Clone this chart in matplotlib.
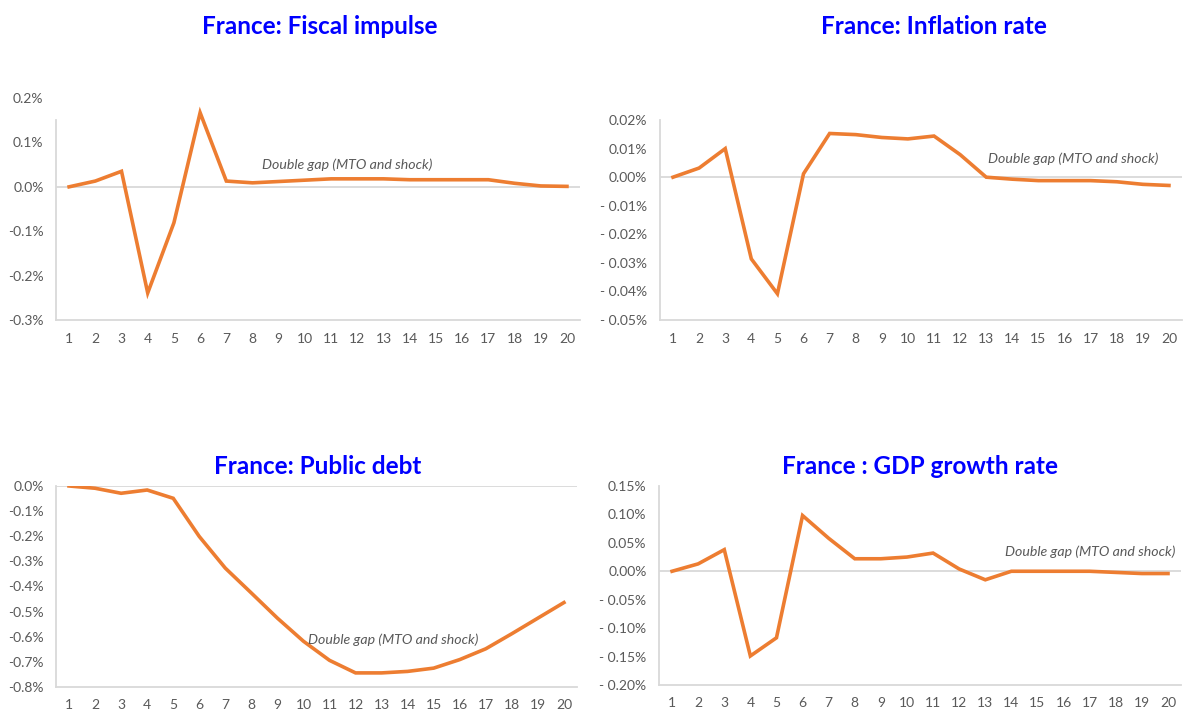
import matplotlib.pyplot as plt
from matplotlib.ticker import FuncFormatter

plt.rcParams['font.family'] = ['Lato', 'DejaVu Sans']

periods = list(range(1, 21))

# values in percent
fiscal_impulse = [0.0, 0.013, 0.035, -0.239, -0.081, 0.167, 0.013, 0.009, 0.012, 0.015,
                  0.018, 0.018, 0.018, 0.016, 0.016, 0.016, 0.016, 0.008, 0.002, 0.001]
inflation_rate = [0.0, 0.0032, 0.0100, -0.0286, -0.0408, 0.0012, 0.0153, 0.0149, 0.0139, 0.0134,
                  0.0144, 0.0079, 0.0, -0.0007, -0.0012, -0.0012, -0.0012, -0.0016, -0.0025, -0.0029]
public_debt = [0.0, -0.009, -0.029, -0.016, -0.049, -0.201, -0.327, -0.426, -0.526, -0.618,
               -0.694, -0.744, -0.744, -0.738, -0.725, -0.691, -0.648, -0.588, -0.526, -0.464]
gdp_growth = [0.0, 0.013, 0.038, -0.149, -0.117, 0.098, 0.058, 0.022, 0.022, 0.025,
              0.032, 0.004, -0.015, 0.0, 0.0, 0.0, 0.0, -0.002, -0.004, -0.004]

titles = ["France: Fiscal impulse", "France: Inflation rate",
          "France: Public debt", "France : GDP growth rate"]
note = "Double gap (MTO and shock)"

ORANGE = '#ED7D31'
GREY = '#D9D9D9'
TXT = '#595959'


def fmt(decimals, spaced):
    def f(v, pos):
        v = round(v, decimals)
        if v < 0:
            s = "{:.{d}f}%".format(-v, d=decimals)
            return ("- " if spaced else "-") + s
        return "{:.{d}f}%".format(abs(v), d=decimals)
    return FuncFormatter(f)


def draw(ax, values, yticks, decimals, spaced, note_xy, spine_top=None):
    ax.plot(periods, values, color=ORANGE, lw=2.6, solid_joinstyle='miter', zorder=3)
    ax.axhline(0, color=GREY, lw=1.3, zorder=1)
    ax.set_xlim(0.5, 20.5)
    ax.set_ylim(yticks[0], yticks[-1])
    ax.set_xticks(periods)
    ax.set_yticks(yticks)
    ax.yaxis.set_major_formatter(fmt(decimals, spaced))
    ax.tick_params(length=0, labelsize=10, colors=TXT)
    ax.tick_params(axis='x', pad=9)
    ax.tick_params(axis='y', pad=9)
    for s in ['top', 'right']:
        ax.spines[s].set_visible(False)
    for s in ['left', 'bottom']:
        ax.spines[s].set_color(GREY)
        ax.spines[s].set_linewidth(1.3)
    if spine_top is not None:
        ax.spines['left'].set_bounds(yticks[0], spine_top)
    ax.text(note_xy[0], note_xy[1], note, fontsize=10.2, style='italic',
            color=TXT, va='center', ha='left')


fig = plt.figure(figsize=(11.84, 7.15), dpi=100)

ax1 = fig.add_axes([0.0473, 0.5524, 0.4426, 0.3105])
draw(ax1, fiscal_impulse, [-0.3, -0.2, -0.1, 0.0, 0.1, 0.2], 1, False,
     (8.36, 0.05), spine_top=0.15)

ax2 = fig.add_axes([0.5574, 0.5524, 0.4409, 0.2797])
draw(ax2, inflation_rate, [-0.05, -0.04, -0.03, -0.02, -0.01, 0.0, 0.01, 0.02], 2, True,
     (13.07, 0.0063))

ax3 = fig.add_axes([0.0473, 0.0392, 0.44, 0.2811])
draw(ax3, public_debt, [-0.8, -0.7, -0.6, -0.5, -0.4, -0.3, -0.2, -0.1, 0.0], 1, False,
     (10.17, -0.61))

ax4 = fig.add_axes([0.5566, 0.042, 0.4409, 0.2783])
draw(ax4, gdp_growth, [-0.2, -0.15, -0.1, -0.05, 0.0, 0.05, 0.1, 0.15], 2, True,
     (13.76, 0.035))

title_pos = [(0.27, 0.963), (0.789, 0.963), (0.268, 0.348), (0.777, 0.348)]
for t, (x, y) in zip(titles, title_pos):
    fig.text(x, y, t, ha='center', va='center', fontsize=17.5, fontweight='bold',
             color='#0000FF')

fig.savefig('out.png', dpi=100)
